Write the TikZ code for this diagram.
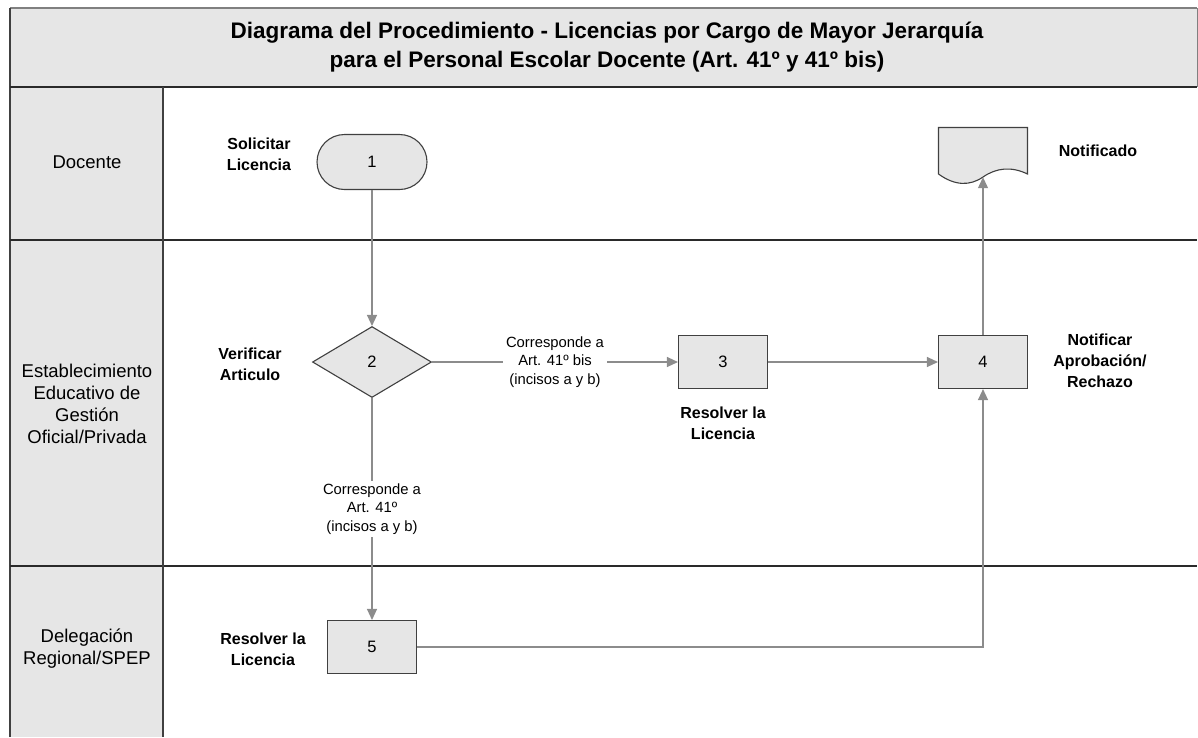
\documentclass[tikz,border=0pt]{standalone}
\usepackage{fontspec}
\setmainfont{Liberation Sans}
\usetikzlibrary{shapes.geometric,shapes.misc,arrows.meta}
\definecolor{bandgray}{HTML}{E6E6E6}
\definecolor{linegray}{HTML}{8C8C8C}
\definecolor{edgegray}{HTML}{404040}
\definecolor{rulegray}{HTML}{2A2A2A}
\begin{document}
\begin{tikzpicture}[x=1pt,y=-1pt,
  shapebox/.style={draw=edgegray, line width=1.1pt, fill=bandgray, font=\fontsize{16.5}{19}\selectfont, inner sep=0pt},
  procbox/.style={shapebox, rectangle, minimum width=89pt, minimum height=53pt},
  flow/.style={draw=linegray, line width=1.2pt, -{Triangle[length=11pt,width=10pt]}},
  tag/.style={font=\bfseries\fontsize{16}{21}\selectfont, align=center, inner sep=0pt},
  lanelabel/.style={font=\fontsize{18.5}{22}\selectfont, align=center, inner sep=0pt},
  edgelabel/.style={fill=white, font=\fontsize{14.8}{18.5}\selectfont, align=center, inner sep=3pt},
  framerule/.style={draw=edgegray, line width=1.4pt},
  lanerule/.style={draw=rulegray, line width=1.4pt}]

\useasboundingbox (0,0) rectangle (1198,737);

% backgrounds
\fill[bandgray] (10,8) rectangle (1197,87);
\fill[bandgray] (10,87) rectangle (163,737);

% frame and lane rules
\draw[draw=gray, line width=2pt] (10,8) -- (1197,8);
\draw[framerule] (10,737) -- (10,8);
\draw[draw=gray, line width=1pt] (1197,8) -- (1197,87);
\draw[lanerule] (10,87) -- (1197,87);
\draw[lanerule] (10,240) -- (1197,240);
\draw[lanerule] (10,566) -- (1197,566);
\draw[framerule] (163,87) -- (163,737);

% title
\node[font=\bfseries\fontsize{22.5}{29}\selectfont, align=center] (title) at (607,47)
  {Diagrama del Procedimiento - Licencias por Cargo de Mayor Jerarquía\\para el Personal Escolar Docente (Art. 41º y 41º bis)};

% lane labels
\node[lanelabel] (laneA) at (87,162) {Docente};
\node[lanelabel] (laneB) at (87,404) {Establecimiento\\Educativo de\\Gestión\\Oficial/Privada};
\node[lanelabel] (laneC) at (87,649) {Delegación\\Regional/SPEP};

% shapes
\node[shapebox, rounded rectangle, minimum width=110pt, minimum height=55pt] (n1) at (372,162) {1};
\node[shapebox, diamond, minimum width=119pt, minimum height=71pt] (n2) at (372,362) {2};
\node[procbox] (n3) at (723,362) {3};
\node[procbox] (n4) at (983,362) {4};
\node[procbox] (n5) at (372,647) {5};

% document shape
\node[minimum width=89pt, minimum height=49.5pt, inner sep=0pt] (doc) at (983,152.25) {};
\filldraw[draw=edgegray, line width=1.1pt, fill=bandgray]
  (938.5,174) -- (938.5,127.5) -- (1027.5,127.5) -- (1027.5,174)
  .. controls (1011,166) and (996,168) .. (983,177)
  .. controls (970,186) and (955,186) .. (938.5,174) -- cycle;

% step labels
\node[tag] (t1) at (259,154) {Solicitar\\Licencia};
\node[tag] (t2) at (250,364) {Verificar\\Articulo};
\node[tag] (t3) at (723,423) {Resolver la\\Licencia};
\node[tag] (t4) at (1100,361) {Notificar\\Aprobación/\\Rechazo};
\node[tag] (t5) at (263,649) {Resolver la\\Licencia};
\node[tag] (t6) at (1098,151) {Notificado};

% connectors
\draw[flow] (n1.south) -- (n2.north);
\draw[flow] (n2.east) -- node[edgelabel] {Corresponde a\\Art. 41º bis\\(incisos a y b)} (n3.west);
\draw[flow] (n3.east) -- (n4.west);
\draw[flow] (n2.south) -- node[edgelabel] {Corresponde a\\Art. 41º\\(incisos a y b)} (n5.north);
\draw[flow] (n5.east) -| (n4.south);
\draw[flow] (n4.north) -- (doc.south);
\end{tikzpicture}
\end{document}
